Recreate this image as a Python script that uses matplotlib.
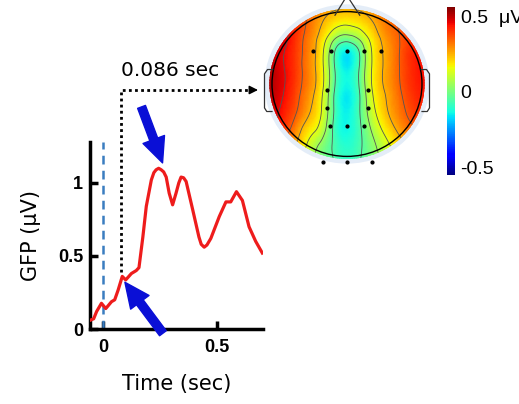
import numpy as np
import matplotlib
matplotlib.use('Agg')
import matplotlib.pyplot as plt
from matplotlib.patches import Circle
from matplotlib.colors import Normalize
from matplotlib.cm import ScalarMappable
from matplotlib.tri import Triangulation, UniformTriRefiner

# GFP time course
t = [-0.055, -0.04, -0.027, -0.006, 0.013, 0.038, 0.052, 0.067, 0.085, 0.1,
     0.125, 0.146, 0.158, 0.175, 0.19, 0.212, 0.223, 0.233, 0.244, 0.255,
     0.266, 0.277, 0.29, 0.305, 0.32, 0.332, 0.342, 0.353, 0.364, 0.393,
     0.42, 0.43, 0.443, 0.455, 0.472, 0.509, 0.538, 0.559, 0.584, 0.61,
     0.639, 0.668, 0.697]
gfp = [0.06, 0.07, 0.12, 0.176, 0.14, 0.187, 0.2, 0.267, 0.36, 0.336,
       0.38, 0.40, 0.42, 0.63, 0.84, 1.02, 1.07, 1.09, 1.10, 1.09,
       1.075, 1.04, 0.93, 0.85, 0.93, 1.0, 1.04, 1.035, 1.01, 0.815,
       0.63, 0.58, 0.56, 0.575, 0.62, 0.77, 0.87, 0.87, 0.94, 0.88,
       0.70, 0.60, 0.52]
xticks = [0, 0.5]
xticklabels = ['0', '0.5']
yticks = [0, 0.5, 1]
yticklabels = ['0', '0.5', '1']
t_marker = 0.078      # where the dotted connector leaves the curve
gfp_marker = 0.39
peak_pt = (0.261, 1.137)
early_pt = (0.0965, 0.32)

# scalp map at 0.086 sec: values on a coarse grid (head radius = 1)
grid_x = [-1.1, -0.9, -0.7, -0.5, -0.35, -0.2, 0, 0.2, 0.35, 0.5, 0.7, 0.9, 1.1]
grid_y = [1.1, 0.85, 0.65, 0.45, 0.2, -0.1, -0.35, -0.6, -0.85, -1.1]
topo_vals = [
    [0.47, 0.44, 0.40, 0.35, 0.31, 0.28, 0.27, 0.28, 0.31, 0.34, 0.37, 0.39, 0.41],
    [0.52, 0.47, 0.41, 0.33, 0.26, 0.20, 0.17, 0.20, 0.25, 0.31, 0.36, 0.41, 0.43],
    [0.54, 0.49, 0.41, 0.31, 0.22, 0.10, 0.02, 0.10, 0.20, 0.28, 0.35, 0.41, 0.44],
    [0.53, 0.47, 0.40, 0.30, 0.19, 0.00, -0.15, 0.00, 0.17, 0.26, 0.35, 0.42, 0.45],
    [0.53, 0.47, 0.40, 0.30, 0.19, 0.00, -0.15, 0.00, 0.17, 0.26, 0.35, 0.42, 0.45],
    [0.53, 0.47, 0.39, 0.29, 0.18, -0.01, -0.15, -0.01, 0.16, 0.25, 0.34, 0.41, 0.44],
    [0.52, 0.45, 0.37, 0.26, 0.16, -0.02, -0.15, -0.02, 0.13, 0.23, 0.32, 0.39, 0.42],
    [0.48, 0.42, 0.32, 0.20, 0.12, -0.04, -0.14, -0.04, 0.08, 0.18, 0.28, 0.35, 0.39],
    [0.42, 0.36, 0.26, 0.12, 0.03, -0.05, -0.11, -0.05, 0.03, 0.11, 0.21, 0.28, 0.32],
    [0.36, 0.30, 0.20, 0.08, 0.01, -0.04, -0.09, -0.04, 0.01, 0.07, 0.16, 0.23, 0.27],
]
contour_levels = [-0.05, 0.05, 0.15, 0.25, 0.35, 0.45]
elec_x = [-0.449, -0.218, 0.004, 0.231, 0.453, -0.263, 0.284, -0.263, 0.284,
          -0.227, 0.004, 0.231, -0.324, 0.004, 0.337]
elec_y = [0.453, 0.453, 0.453, 0.453, 0.453, -0.08, -0.08, -0.333, -0.333,
          -0.587, -0.587, -0.587, -1.08, -1.08, -1.08]
cbar_ticks = [-0.5, 0, 0.5]
cbar_labels = ['-0.5', '0', '0.5  \u03bcV']
vmin, vmax = -0.55, 0.56

W, H = 519, 404
fig = plt.figure(figsize=(W / 100, H / 100), dpi=100)

# ---- GFP trace
ax = fig.add_axes([90 / W, (H - 329) / H, 173 / W, 187 / H])
ax.plot(t, gfp, color='#ee1c1c', lw=2.3, solid_joinstyle='round', zorder=3)
ax.axvline(0, color='#3a7dc0', lw=1.8, dashes=(3.5, 2.5), zorder=2)
ax.set_xlim(-0.056, 0.70)
ax.set_ylim(0, 1.28)
for s in ['top', 'right']:
    ax.spines[s].set_visible(False)
for s in ['left', 'bottom']:
    ax.spines[s].set_linewidth(2.5)
ax.set_xticks(xticks)
ax.set_xticklabels(xticklabels)
ax.set_yticks(yticks)
ax.set_yticklabels(yticklabels)
ax.tick_params(direction='in', length=6, width=2.5)
ax.tick_params(axis='x', pad=7)
ax.tick_params(axis='y', pad=5)
for lab in ax.get_xticklabels() + ax.get_yticklabels():
    lab.set_fontfamily('Liberation Sans')
    lab.set_fontweight('bold')
    lab.set_fontsize(13)
ax.set_xlabel('Time (sec)', fontsize=15, labelpad=13)
ax.set_ylabel('GFP (\u03bcV)', fontsize=15, labelpad=12)

arrow_blue = '#0a0fd6'
arr = dict(arrowstyle='simple,head_width=1.65,head_length=1.8,tail_width=0.6',
           mutation_scale=10, color=arrow_blue, shrinkA=0, shrinkB=0)
ax.annotate('', xy=peak_pt, xytext=(-21, 56), textcoords='offset pixels',
            arrowprops=arr, annotation_clip=False)
ax.annotate('', xy=early_pt, xytext=(38, -51), textcoords='offset pixels',
            arrowprops=arr, annotation_clip=False)

# ---- scalp map
tx = fig.add_axes([(347 - 93.75) / W, (H - 84 - 90.5) / H, 187.5 / W, 181 / H])
tx.set_xlim(-1.25, 1.25)
tx.set_ylim(-1.25, 1.25)
tx.axis('off')
gx, gy = np.meshgrid(grid_x, grid_y)
gz = np.array(topo_vals)
tri = Triangulation(gx.ravel(), gy.ravel())
tri_f, z_f = UniformTriRefiner(tri).refine_field(gz.ravel(), subdiv=3)
tx.add_patch(Circle((0, 0), 1.1, color='#e4edf8', lw=0, zorder=0))
clip = Circle((0, 0), 1.035, transform=tx.transData)
pm = tx.tripcolor(tri_f, z_f, shading='gouraud', cmap='jet', vmin=vmin, vmax=vmax, zorder=1)
pm.set_clip_path(clip)
cs = tx.tricontour(tri_f, z_f, levels=contour_levels, colors='#555555', linewidths=0.6,
                   negative_linestyles='solid', zorder=2)
cs.set_clip_path(clip)
tx.add_patch(Circle((0, 0), 1.0, fill=False, ec='k', lw=1.0, zorder=3))
tx.scatter(elec_x, elec_y, s=4, c='k', zorder=4)
# nose and ears
tx.plot([-0.16, 0, 0.17], [0.95, 1.22, 0.95], color='#333333', lw=0.9, zorder=3)
ear_x = [-0.99, -1.06, -1.1, -1.1, -1.07, -1.0]
ear_y = [0.2, 0.2, 0.14, -0.33, -0.38, -0.38]
tx.plot(ear_x, ear_y, color='#333333', lw=0.9, zorder=3)
tx.plot([-v for v in ear_x], ear_y, color='#333333', lw=0.9, zorder=3)

# ---- colorbar
cax = fig.add_axes([447 / W, (H - 175) / H, 8 / W, 168 / H])
sm = ScalarMappable(norm=Normalize(vmin, vmax), cmap='jet')
cb = fig.colorbar(sm, cax=cax, ticks=cbar_ticks)
cb.ax.set_yticklabels(cbar_labels)
cb.ax.tick_params(length=0, pad=4)
cb.outline.set_visible(False)
for lab in cb.ax.get_yticklabels():
    lab.set_fontfamily('Liberation Sans')
    lab.set_fontsize(14)

# ---- dotted connector from the curve to the map
ov = fig.add_axes([0, 0, 1, 1], zorder=5)
ov.set_xlim(0, W)
ov.set_ylim(0, H)
ov.axis('off')
x0, y0 = ax.transData.transform((t_marker, gfp_marker))
yc = H - 90
ov.plot([x0, x0, 252], [y0, yc, yc], color='k', lw=2, dashes=(1, 1.2))
ov.annotate('', xy=(258, yc), xytext=(250, yc),
            arrowprops=dict(arrowstyle='-|>', color='k', lw=1, mutation_scale=13,
                            shrinkA=0, shrinkB=0))
ov.text(x0, H - 70, '0.086 sec', fontsize=14.5, ha='left', va='center')

fig.savefig('out.png', dpi=100)
